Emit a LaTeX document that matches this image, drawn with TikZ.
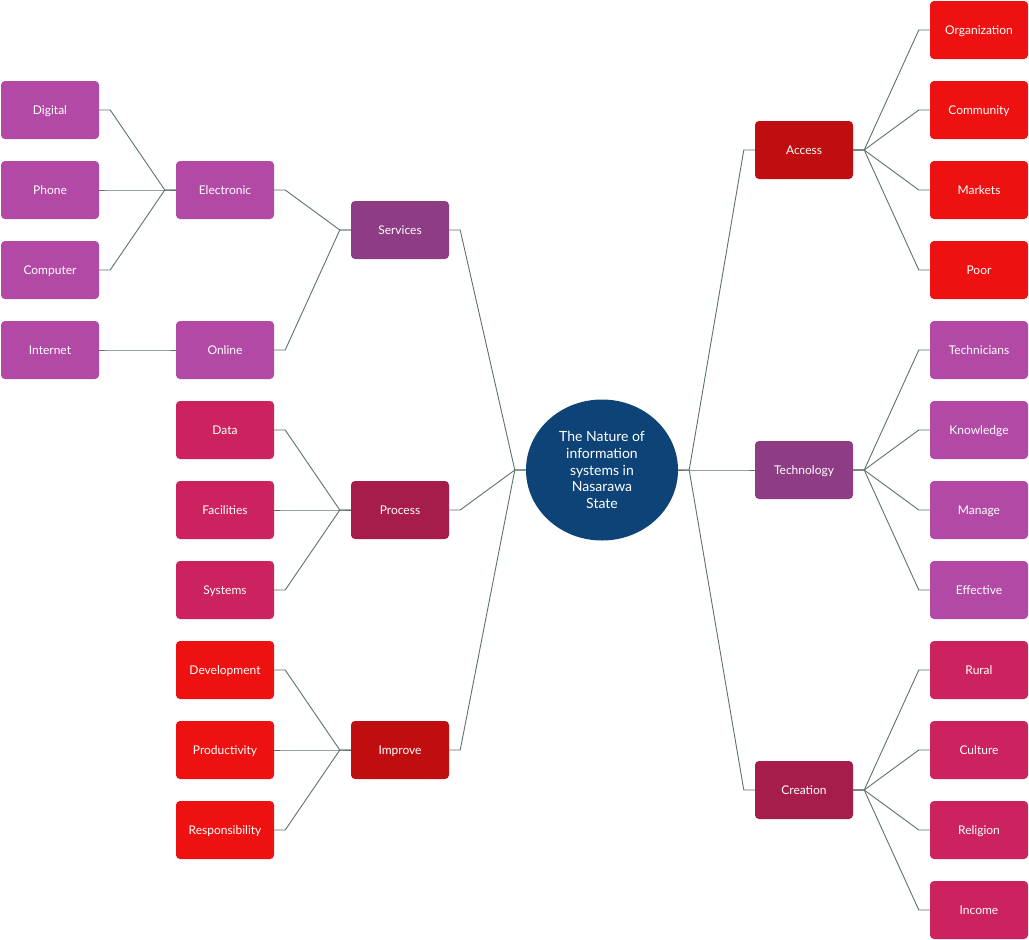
\documentclass[tikz,border=0pt]{standalone}
\usepackage{fontspec}
\setmainfont{Lato}
\usetikzlibrary{calc,shapes.geometric}
\definecolor{cRedB}{HTML}{EE1111}
\definecolor{cRedD}{HTML}{C00E10}
\definecolor{cPurB}{HTML}{B24AA5}
\definecolor{cPurD}{HTML}{8E3D84}
\definecolor{cCrmD}{HTML}{A61C4A}
\definecolor{cCrmB}{HTML}{CC2260}
\definecolor{cBlue}{HTML}{0E4378}
\definecolor{cLine}{HTML}{5E7070}
\tikzset{
  box/.style={rectangle, rounded corners=4pt, minimum width=98pt, minimum height=58pt, inner sep=0pt, text height=9pt, text depth=0.5pt, text=white, font=\fontsize{12}{14}\selectfont},
  conn/.style={draw=cLine, line width=0.9pt},
}
\begin{document}
\begin{tikzpicture}[x=1pt,y=-1pt]
\useasboundingbox (0,0) rectangle (1029,940);
% center
\node[ellipse, fill=cBlue, minimum width=152pt, minimum height=141pt, inner sep=0pt, text=white, align=center, font=\fontsize{14}{16.7}\selectfont] (C) at (602,470) {The Nature of\\information\\systems in\\Nasarawa\\State};
% left level 1
\node[box, fill=cPurD] (Serv) at (400,230) {Services};
\node[box, fill=cCrmD] (Proc) at (400,510) {Process};
\node[box, fill=cRedD] (Impr) at (400,750) {Improve};
% left level 2
\node[box, fill=cPurB] (Elec) at (225,190) {Electronic};
\node[box, fill=cPurB] (Onl) at (225,350) {Online};
\node[box, fill=cCrmB] (Data) at (225,430) {Data};
\node[box, fill=cCrmB] (Fac) at (225,510) {Facilities};
\node[box, fill=cCrmB] (Sys) at (225,590) {Systems};
\node[box, fill=cRedB] (Dev) at (225,670) {Development};
\node[box, fill=cRedB] (Prod) at (225,750) {Productivity};
\node[box, fill=cRedB] (Resp) at (225,830) {Responsibility};
% left level 3
\node[box, fill=cPurB] (Dig) at (50,110) {Digital};
\node[box, fill=cPurB] (Pho) at (50,190) {Phone};
\node[box, fill=cPurB] (Comp) at (50,270) {Computer};
\node[box, fill=cPurB] (Inet) at (50,350) {Internet};
% right level 1
\node[box, fill=cRedD] (Acc) at (804,150) {Access};
\node[box, fill=cPurD] (Tech) at (804,470) {Technology};
\node[box, fill=cCrmD] (Cre) at (804,790) {Creation};
% right level 2
\node[box, fill=cRedB] (Org) at (979,30) {Organization};
\node[box, fill=cRedB] (Com) at (979,110) {Community};
\node[box, fill=cRedB] (Mark) at (979,190) {Markets};
\node[box, fill=cRedB] (Poor) at (979,270) {Poor};
\node[box, fill=cPurB] (Techn) at (979,350) {Technicians};
\node[box, fill=cPurB] (Know) at (979,430) {Knowledge};
\node[box, fill=cPurB] (Man) at (979,510) {Manage};
\node[box, fill=cPurB] (Eff) at (979,590) {Effective};
\node[box, fill=cCrmB] (Rur) at (979,670) {Rural};
\node[box, fill=cCrmB] (Cul) at (979,750) {Culture};
\node[box, fill=cCrmB] (Rel) at (979,830) {Religion};
\node[box, fill=cCrmB] (Inc) at (979,910) {Income};
% junctions
\coordinate (jCL) at ($(C.west)+(-11,0)$);
\coordinate (jCR) at ($(C.east)+(11,0)$);
\coordinate (jS) at ($(Serv.west)+(-11,0)$);
\coordinate (jP) at ($(Proc.west)+(-11,0)$);
\coordinate (jI) at ($(Impr.west)+(-11,0)$);
\coordinate (jE) at ($(Elec.west)+(-11,0)$);
\coordinate (jO) at ($(Onl.west)+(-11,0)$);
\coordinate (jA) at ($(Acc.east)+(11,0)$);
\coordinate (jT) at ($(Tech.east)+(11,0)$);
\coordinate (jC) at ($(Cre.east)+(11,0)$);
% left connectors
\foreach \c in {Serv,Proc,Impr} \draw[conn] (\c.east) -- ++(11,0) -- (jCL) -- (C.west);
\foreach \c in {Elec,Onl} \draw[conn] (\c.east) -- ++(11,0) -- (jS) -- (Serv.west);
\foreach \c in {Data,Fac,Sys} \draw[conn] (\c.east) -- ++(11,0) -- (jP) -- (Proc.west);
\foreach \c in {Dev,Prod,Resp} \draw[conn] (\c.east) -- ++(11,0) -- (jI) -- (Impr.west);
\foreach \c in {Dig,Pho,Comp} \draw[conn] (\c.east) -- ++(11,0) -- (jE) -- (Elec.west);
\draw[conn] (Inet.east) -- ++(11,0) -- (jO) -- (Onl.west);
% right connectors
\foreach \c in {Acc,Tech,Cre} \draw[conn] (\c.west) -- ++(-11,0) -- (jCR) -- (C.east);
\foreach \c in {Org,Com,Mark,Poor} \draw[conn] (\c.west) -- ++(-11,0) -- (jA) -- (Acc.east);
\foreach \c in {Techn,Know,Man,Eff} \draw[conn] (\c.west) -- ++(-11,0) -- (jT) -- (Tech.east);
\foreach \c in {Rur,Cul,Rel,Inc} \draw[conn] (\c.west) -- ++(-11,0) -- (jC) -- (Cre.east);
\end{tikzpicture}
\end{document}
